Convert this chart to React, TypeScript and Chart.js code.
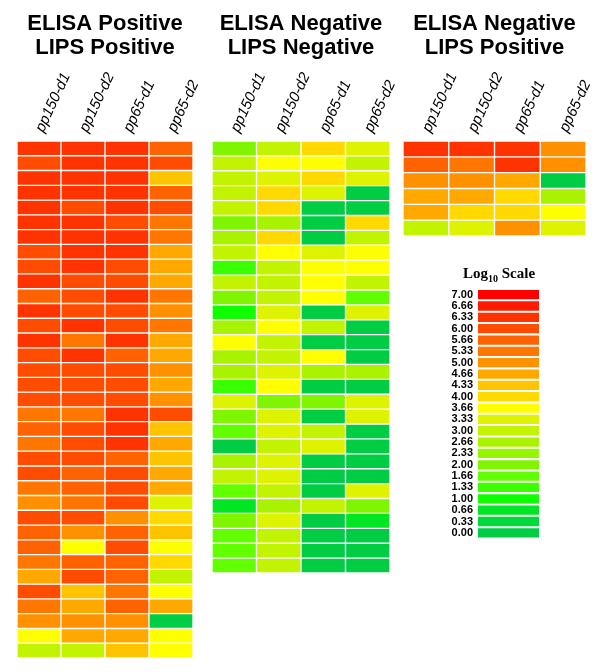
import React, { useEffect, useRef } from 'react';
import { Chart, registerables } from 'chart.js';

Chart.register(...registerables);

// ---------- data ----------
const COLUMNS = ['pp150-d1', 'pp150-d2', 'pp65-d1', 'pp65-d2'];

const SCALE_LEVELS = [7.0, 6.66, 6.33, 6.0, 5.66, 5.33, 5.0, 4.66, 4.33, 4.0, 3.66, 3.33, 3.0, 2.66, 2.33, 2.0, 1.66, 1.33, 1.0, 0.66, 0.33, 0.0];
const SCALE_LABELS = ['7.00', '6.66', '6.33', '6.00', '5.66', '5.33', '5.00', '4.66', '4.33', '4.00', '3.66', '3.33', '3.00', '2.66', '2.33', '2.00', '1.66', '1.33', '1.00', '0.66', '0.33', '0.00'];
const SCALE_COLORS = [
  '#FF0000', '#FF1A00', '#FF3300', '#FF4C00', '#FF6200', '#FF7700', '#FF9000', '#FFA800',
  '#FFC400', '#FFD900', '#FFFF00', '#DDF300', '#C2F300', '#AAF300', '#96F600', '#80F500',
  '#62FF00', '#3AFF00', '#10FF00', '#00E622', '#00D93A', '#00CC44',
];

// ELISA Positive / LIPS Positive (35 sera)
const POSPOS_PP150_D1 = [6.33, 6.0, 6.33, 6.33, 6.33, 6.33, 6.33, 6.0, 6.0, 6.33, 5.66, 6.33, 6.0, 6.33, 6.0, 6.0, 6.0, 6.0, 5.33, 5.66, 5.33, 6.0, 6.0, 5.33, 5.0, 6.0, 5.66, 5.66, 5.33, 4.66, 6.0, 5.33, 5.0, 3.66, 3.0];
const POSPOS_PP150_D2 = [6.33, 6.33, 6.33, 6.33, 6.0, 6.33, 6.33, 6.33, 6.33, 6.0, 6.0, 6.0, 6.33, 5.33, 6.33, 6.0, 6.0, 6.0, 5.33, 6.0, 6.0, 6.0, 5.66, 5.66, 5.33, 6.0, 5.0, 3.66, 5.66, 6.0, 4.33, 4.66, 5.0, 4.66, 3.0];
const POSPOS_PP65_D1 = [6.33, 6.33, 6.33, 6.33, 6.33, 6.0, 6.33, 6.33, 6.0, 6.0, 6.33, 6.0, 6.0, 6.33, 5.66, 6.0, 6.0, 6.0, 6.33, 6.33, 6.33, 5.66, 6.0, 6.0, 6.0, 5.0, 5.66, 6.0, 5.66, 5.66, 5.33, 5.66, 5.0, 4.66, 4.33];
const POSPOS_PP65_D2 = [5.66, 6.0, 4.33, 5.66, 6.0, 5.33, 5.33, 4.66, 4.66, 4.66, 5.33, 5.0, 5.33, 4.66, 4.66, 5.0, 4.66, 5.0, 6.0, 4.33, 4.66, 4.33, 4.66, 4.66, 3.33, 4.0, 4.33, 3.66, 4.0, 3.0, 3.66, 4.66, 0.0, 3.66, 3.66];

// ELISA Negative / LIPS Negative (29 sera)
const NEGNEG_PP150_D1 = [2.0, 3.0, 3.0, 3.0, 3.0, 2.0, 2.66, 3.0, 1.33, 3.0, 2.0, 1.0, 2.66, 3.66, 2.66, 2.66, 1.33, 3.33, 2.0, 1.66, 0.0, 2.66, 3.0, 1.66, 0.66, 2.0, 1.66, 1.66, 1.66];
const NEGNEG_PP150_D2 = [3.0, 3.66, 3.33, 4.0, 4.0, 2.66, 4.0, 3.66, 3.0, 3.0, 3.0, 3.33, 3.66, 3.0, 3.0, 3.33, 3.66, 2.0, 3.33, 3.33, 3.0, 3.33, 3.33, 3.0, 2.66, 3.33, 3.0, 3.0, 3.0];
const NEGNEG_PP65_D1 = [4.0, 3.66, 4.0, 3.33, 0.0, 0.0, 0.0, 3.33, 3.66, 3.66, 3.66, 0.0, 3.0, 0.0, 3.66, 2.66, 0.0, 2.0, 0.0, 3.0, 3.33, 0.0, 0.0, 0.0, 3.0, 0.0, 0.0, 0.0, 0.0];
const NEGNEG_PP65_D2 = [3.33, 3.0, 3.33, 0.0, 0.0, 4.0, 3.0, 3.66, 3.66, 3.0, 1.66, 3.33, 0.0, 0.0, 0.0, 2.66, 0.0, 3.33, 3.33, 0.0, 0.0, 0.0, 0.0, 3.33, 2.0, 0.66, 0.0, 0.0, 0.0];

// ELISA Negative / LIPS Positive (6 sera)
const NEGPOS_PP150_D1 = [6.33, 5.66, 5.0, 4.66, 4.66, 3.0];
const NEGPOS_PP150_D2 = [6.33, 5.33, 5.0, 4.66, 4.0, 3.33];
const NEGPOS_PP65_D1 = [6.33, 6.33, 4.66, 4.0, 4.0, 5.0];
const NEGPOS_PP65_D2 = [5.0, 5.0, 0.0, 2.66, 3.66, 3.33];

const TITLE_POSPOS = ['ELISA Positive', 'LIPS Positive'];
const TITLE_NEGNEG = ['ELISA Negative', 'LIPS Negative'];
const TITLE_NEGPOS = ['ELISA Negative', 'LIPS Positive'];

// ---------- helpers ----------
const W = 600;
const H = 672;
const SANS = 'Liberation Sans, Arial, sans-serif';
const SERIF = 'Liberation Serif, Times New Roman, serif';

function colorFor(v: number): string {
  let best = 0;
  for (let i = 1; i < SCALE_LEVELS.length; i++) {
    if (Math.abs(SCALE_LEVELS[i] - v) < Math.abs(SCALE_LEVELS[best] - v)) best = i;
  }
  return SCALE_COLORS[best];
}

const TITLE_PAD_TOP = 12;
const TITLE_SIZE = 22;
const TITLE_LH = 1.1;
const AREA_TOP = 141;

function heatmapConfig(title: string[], cols: number[][], left: number, right: number, bottom: number): any {
  const nRows = cols[0].length;
  const datasets = Array.from({ length: nRows }, (_, r) => ({
    label: 'row ' + (r + 1),
    data: cols.map(() => 1),
    backgroundColor: cols.map((c) => colorFor(c[r])),
    borderColor: '#ffffff',
    borderWidth: 1,
    borderSkipped: false,
    barPercentage: 1,
    categoryPercentage: 1,
    stack: 'cells',
  }));
  const titleBox = TITLE_PAD_TOP + title.length * TITLE_SIZE * TITLE_LH;
  return {
    type: 'bar',
    data: { labels: COLUMNS, datasets },
    options: {
      responsive: false,
      animation: false,
      devicePixelRatio: 1,
      layout: { padding: { left, right: W - right, top: 0, bottom: H - bottom } },
      plugins: {
        legend: { display: false },
        tooltip: { enabled: false },
        title: {
          display: true,
          text: title,
          color: '#000',
          fullSize: false,
          align: 'center',
          font: { family: SANS, size: TITLE_SIZE, weight: 'bold', lineHeight: TITLE_LH },
          padding: { top: TITLE_PAD_TOP, bottom: 0 },
        },
      },
      scales: {
        x: {
          position: 'top',
          stacked: true,
          grid: { display: false, drawTicks: false },
          border: { display: false },
          ticks: {
            color: '#000',
            autoSkip: false,
            minRotation: 65,
            maxRotation: 65,
            padding: 6,
            labelOffset: 17,
            font: { family: SANS, size: 15, style: 'italic' },
          },
          afterFit: (axis: any) => {
            axis.height = AREA_TOP - titleBox;
            axis.paddingLeft = 0;
            axis.paddingRight = 0;
          },
        },
        y: {
          display: false,
          stacked: true,
          reverse: true,
          min: 0,
          max: nRows,
        },
      },
    },
  };
}

const legendTitlePlugin = {
  id: 'log10Title',
  afterDraw(chart: any) {
    const ctx = chart.ctx;
    const area = chart.chartArea;
    ctx.save();
    ctx.fillStyle = '#000';
    ctx.textBaseline = 'alphabetic';
    ctx.textAlign = 'left';
    const big = 'bold 15px ' + SERIF;
    const small = 'bold 10px ' + SERIF;
    ctx.font = big;
    const w1 = ctx.measureText('Log').width;
    const w3 = ctx.measureText(' Scale').width;
    ctx.font = small;
    const w2 = ctx.measureText('10').width;
    const total = w1 + w2 + w3;
    const cx = area.left + 21;
    const base = area.top - 11;
    let x = cx - total / 2;
    ctx.font = big;
    ctx.fillText('Log', x, base);
    x += w1;
    ctx.font = small;
    ctx.fillText('10', x, base + 4);
    x += w2;
    ctx.font = big;
    ctx.fillText(' Scale', x, base);
    ctx.restore();
  },
};

function legendConfig(): any {
  return {
    type: 'bar',
    data: {
      labels: SCALE_LABELS,
      datasets: [
        {
          label: 'Log10 Scale',
          data: SCALE_LEVELS.map(() => 1),
          backgroundColor: SCALE_COLORS,
          borderWidth: 0,
          barPercentage: 0.82,
          categoryPercentage: 1,
        },
      ],
    },
    options: {
      indexAxis: 'y',
      responsive: false,
      animation: false,
      devicePixelRatio: 1,
      layout: { padding: { left: 438, right: W - 539, top: 289, bottom: H - 538.5 } },
      plugins: { legend: { display: false }, tooltip: { enabled: false }, title: { display: false } },
      scales: {
        x: { display: false, min: 0, max: 1 },
        y: {
          grid: { display: false, drawTicks: false },
          border: { display: false },
          ticks: { color: '#000', padding: 5, autoSkip: false, font: { family: SANS, size: 11, weight: 'bold' } },
          afterFit: (axis: any) => {
            axis.width = 40;
          },
        },
      },
    },
    plugins: [legendTitlePlugin],
  };
}

function ChartCanvas({ make }: { make: () => any }) {
  const ref = useRef<HTMLCanvasElement | null>(null);
  useEffect(() => {
    if (!ref.current) return;
    const chart = new Chart(ref.current, make());
    return () => chart.destroy();
  }, []);
  return <canvas ref={ref} width={W} height={H} style={{ position: 'absolute', left: 0, top: 0, width: W, height: H }} />;
}

export default function App() {
  return (
    <div style={{ position: 'absolute', left: 0, top: 0, width: W, height: H, background: '#fff', overflow: 'hidden' }}>
      <ChartCanvas make={() => heatmapConfig(TITLE_POSPOS, [POSPOS_PP150_D1, POSPOS_PP150_D2, POSPOS_PP65_D1, POSPOS_PP65_D2], 17, 193, 658)} />
      <ChartCanvas make={() => heatmapConfig(TITLE_NEGNEG, [NEGNEG_PP150_D1, NEGNEG_PP150_D2, NEGNEG_PP65_D1, NEGNEG_PP65_D2], 212, 390, 573)} />
      <ChartCanvas make={() => heatmapConfig(TITLE_NEGPOS, [NEGPOS_PP150_D1, NEGPOS_PP150_D2, NEGPOS_PP65_D1, NEGPOS_PP65_D2], 403, 586, 236)} />
      <ChartCanvas make={legendConfig} />
    </div>
  );
}
